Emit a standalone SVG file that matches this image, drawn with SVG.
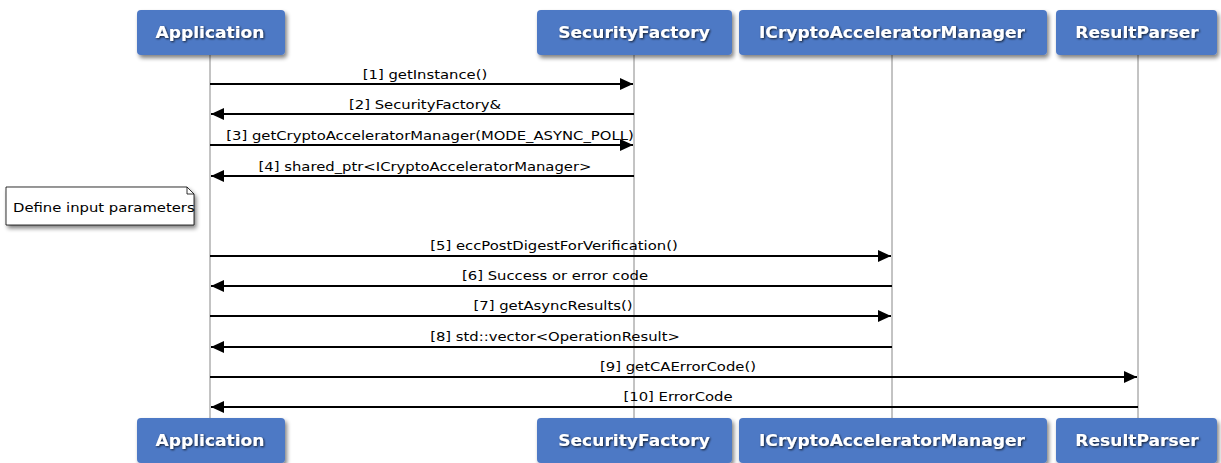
<svg xmlns="http://www.w3.org/2000/svg" width="1221" height="463" viewBox="0 0 1221 463">
<defs>
<filter id="sh" x="-10%" y="-10%" width="130%" height="140%">
<feGaussianBlur in="SourceAlpha" stdDeviation="2"/>
<feOffset dx="2" dy="3" result="b"/>
<feComponentTransfer><feFuncA type="linear" slope="0.5"/></feComponentTransfer>
<feMerge><feMergeNode/><feMergeNode in="SourceGraphic"/></feMerge>
</filter>
<filter id="tsh" x="-10%" y="-30%" width="130%" height="170%">
<feGaussianBlur in="SourceAlpha" stdDeviation="1"/>
<feOffset dx="1" dy="1" result="b"/>
<feComponentTransfer><feFuncA type="linear" slope="0.8"/></feComponentTransfer>
<feMerge><feMergeNode/><feMergeNode in="SourceGraphic"/></feMerge>
</filter>
<marker id="ah" markerWidth="14" markerHeight="12" refX="13" refY="6" orient="auto" markerUnits="userSpaceOnUse">
<path d="M0,0 L13,6 L0,12 z" fill="#000"/>
</marker>
</defs>
<style>
.box{fill:#4e79c5;stroke:none;}
.hdr{font-family:"DejaVu Sans",sans-serif;font-weight:bold;font-size:15px;fill:#fff;text-anchor:middle;}
.life{stroke:#888;stroke-width:1;}
.msg{stroke:#000;stroke-width:2;fill:none;marker-end:url(#ah);}
.lbl{font-family:"DejaVu Sans",sans-serif;font-size:13px;fill:#000;text-anchor:middle;}
.note{fill:#fff;stroke:#000;stroke-width:0.8;}
</style>
<rect width="1221" height="463" fill="#fff"/>
<g id="lifelines">
<line class="life" x1="210" y1="55" x2="210" y2="418"/>
<line class="life" x1="634" y1="55" x2="634" y2="418"/>
<line class="life" x1="892" y1="55" x2="892" y2="418"/>
<line class="life" x1="1138" y1="55" x2="1138" y2="418"/>
</g>
<g id="Application">
<rect class="box" x="137" y="10" width="148" height="45" rx="4" filter="url(#sh)"/>
<text class="hdr" transform="translate(210,38) scale(1.14,1)" filter="url(#tsh)">Application</text>
<rect class="box" x="137" y="418" width="148" height="45" rx="4" filter="url(#sh)"/>
<text class="hdr" transform="translate(210,446) scale(1.14,1)" filter="url(#tsh)">Application</text>
</g>
<g id="SecurityFactory">
<rect class="box" x="537" y="10" width="195" height="45" rx="4" filter="url(#sh)"/>
<text class="hdr" transform="translate(634,38) scale(1.14,1)" filter="url(#tsh)">SecurityFactory</text>
<rect class="box" x="537" y="418" width="195" height="45" rx="4" filter="url(#sh)"/>
<text class="hdr" transform="translate(634,446) scale(1.14,1)" filter="url(#tsh)">SecurityFactory</text>
</g>
<g id="ICryptoAcceleratorManager">
<rect class="box" x="739" y="10" width="308" height="45" rx="4" filter="url(#sh)"/>
<text class="hdr" transform="translate(892,38) scale(1.14,1)" filter="url(#tsh)">ICryptoAcceleratorManager</text>
<rect class="box" x="739" y="418" width="308" height="45" rx="4" filter="url(#sh)"/>
<text class="hdr" transform="translate(892,446) scale(1.14,1)" filter="url(#tsh)">ICryptoAcceleratorManager</text>
</g>
<g id="ResultParser">
<rect class="box" x="1056" y="10" width="161" height="45" rx="4" filter="url(#sh)"/>
<text class="hdr" transform="translate(1137,38) scale(1.14,1)" filter="url(#tsh)">ResultParser</text>
<rect class="box" x="1056" y="418" width="161" height="45" rx="4" filter="url(#sh)"/>
<text class="hdr" transform="translate(1137,446) scale(1.14,1)" filter="url(#tsh)">ResultParser</text>
</g>
<g id="note">
<path class="note" d="M6,187 L187,187 L194,194 L194,225 L6,225 Z" filter="url(#sh)"/>
<path d="M187,187 L187,194 L194,194" fill="none" stroke="#000" stroke-width="0.8"/>
<text transform="translate(13,212) scale(1.14,1)" font-family="DejaVu Sans, sans-serif" font-size="13" fill="#000">Define input parameters</text>
</g>
<g id="connectors">
<line class="msg" x1="210" y1="84" x2="633" y2="84"/>
<text class="lbl" transform="translate(425,79) scale(1.14,1)">[1] getInstance()</text>
<line class="msg" x1="634" y1="114" x2="211" y2="114"/>
<text class="lbl" transform="translate(425,109) scale(1.14,1)">[2] SecurityFactory&amp;</text>
<line class="msg" x1="210" y1="145" x2="633" y2="145"/>
<text class="lbl" transform="translate(430,140) scale(1.14,1)">[3] getCryptoAcceleratorManager(MODE_ASYNC_POLL)</text>
<line class="msg" x1="634" y1="176" x2="211" y2="176"/>
<text class="lbl" transform="translate(425,171) scale(1.14,1)">[4] shared_ptr&lt;ICryptoAcceleratorManager&gt;</text>
<line class="msg" x1="210" y1="256" x2="891" y2="256"/>
<text class="lbl" transform="translate(554,250) scale(1.14,1)">[5] eccPostDigestForVerification()</text>
<line class="msg" x1="892" y1="286" x2="211" y2="286"/>
<text class="lbl" transform="translate(555,280) scale(1.14,1)">[6] Success or error code</text>
<line class="msg" x1="210" y1="316" x2="891" y2="316"/>
<text class="lbl" transform="translate(553,310) scale(1.14,1)">[7] getAsyncResults()</text>
<line class="msg" x1="892" y1="347" x2="211" y2="347"/>
<text class="lbl" transform="translate(555,341) scale(1.14,1)">[8] std::vector&lt;OperationResult&gt;</text>
<line class="msg" x1="210" y1="377" x2="1137" y2="377"/>
<text class="lbl" transform="translate(678,371) scale(1.14,1)">[9] getCAErrorCode()</text>
<line class="msg" x1="1138" y1="407" x2="211" y2="407"/>
<text class="lbl" transform="translate(678,401) scale(1.14,1)">[10] ErrorCode</text>
</g>
</svg>
